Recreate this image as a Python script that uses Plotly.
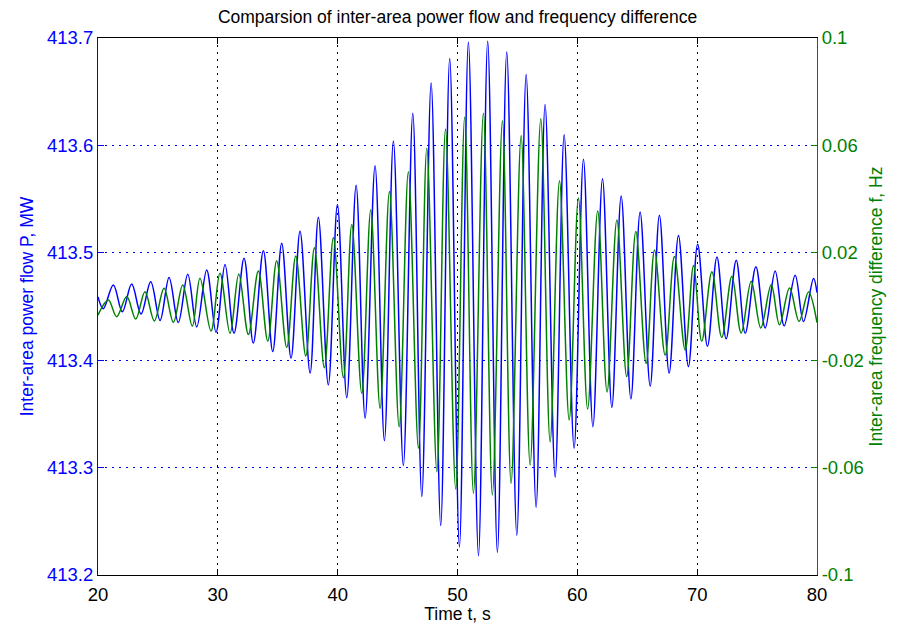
import plotly.graph_objects as go

# ---- data (extrema of each oscillation) ----
blue_t = [20.0, 20.44, 21.28, 22.03, 22.81, 23.59, 24.4, 25.18, 25.93, 26.7, 27.49, 28.24, 29.07, 29.85,
          30.6, 31.35, 32.19, 32.96, 33.8, 34.58, 35.33, 36.11, 36.86, 37.7, 38.39, 39.22, 39.98, 40.76,
          41.54, 42.29, 43.12, 43.9, 44.65, 45.48, 46.27, 47.02, 47.8, 48.6, 49.35, 50.16, 50.91, 51.75,
          52.52, 53.33, 54.11, 54.95, 55.73, 56.56, 57.31, 58.15, 58.9, 59.73, 60.51, 61.3, 62.1, 62.88,
          63.66, 64.47, 65.24, 66.08, 66.85, 67.66, 68.44, 69.27, 70.04, 70.86, 71.65, 72.42, 73.26, 74.01,
          74.9, 75.68, 76.51, 77.26, 78.18, 78.87, 79.71, 80.0]
blue_p = [413.459, 413.448, 413.470, 413.445, 413.471, 413.443, 413.473, 413.437, 413.477, 413.435,
          413.480, 413.431, 413.484, 413.426, 413.489, 413.425, 413.495, 413.416, 413.502, 413.408,
          413.509, 413.402, 413.520, 413.388, 413.533, 413.377, 413.545, 413.365, 413.563, 413.346,
          413.581, 413.325, 413.604, 413.302, 413.630, 413.273, 413.658, 413.246, 413.681, 413.226,
          413.696, 413.218, 413.697, 413.221, 413.687, 413.237, 413.666, 413.263, 413.638, 413.291,
          413.610, 413.318, 413.587, 413.338, 413.569, 413.356, 413.553, 413.364, 413.538, 413.376,
          413.535, 413.388, 413.516, 413.394, 413.508, 413.413, 413.496, 413.420, 413.493, 413.425,
          413.487, 413.430, 413.483, 413.432, 413.479, 413.436, 413.476, 413.463]

green_t = [20.0, 20.86, 21.56, 22.4, 23.15, 23.92, 24.7, 25.51, 26.29, 27.07, 27.87, 28.51, 29.43, 30.18,
           31.02, 31.75, 32.55, 33.38, 34.17, 34.91, 35.75, 36.5, 37.34, 38.06, 38.89, 39.64, 40.48, 41.18,
           42.01, 42.76, 43.54, 44.32, 45.13, 45.9, 46.74, 47.44, 48.28, 49.0, 49.85, 50.6, 51.33, 52.16,
           52.91, 53.75, 54.47, 55.31, 56.06, 56.95, 57.73, 58.51, 59.32, 60.09, 60.86, 61.7, 62.48, 63.3,
           64.12, 64.88, 65.74, 66.44, 67.33, 68.1, 69.0, 69.7, 70.38, 71.23, 72.05, 72.9, 73.67, 74.51,
           75.31, 76.18, 76.87, 77.71, 78.51, 79.29, 80.0]
green_f = [-0.0032, 0.0024, -0.0038, 0.0037, -0.0047, 0.0055, -0.0054, 0.0068, -0.0059, 0.0080,
           -0.0073, 0.0105, -0.0091, 0.0124, -0.0100, 0.0121, -0.0104, 0.0132, -0.0129, 0.0170,
           -0.0153, 0.0188, -0.0184, 0.0219, -0.0228, 0.0256, -0.0265, 0.0305, -0.0323, 0.0359,
           -0.0379, 0.0428, -0.0448, 0.0502, -0.0528, 0.0589, -0.0615, 0.0661, -0.0680, 0.0706,
           -0.0696, 0.0720, -0.0702, 0.0692, -0.0659, 0.0637, -0.0590, 0.0699, -0.0504, 0.0468,
           -0.0423, 0.0404, -0.0382, 0.0356, -0.0318, 0.0322, -0.0261, 0.0279, -0.0212, 0.0210,
           -0.0181, 0.0186, -0.0162, 0.0153, -0.0129, 0.0129, -0.0115, 0.0113, -0.0099, 0.0094,
           -0.0080, 0.0081, -0.0068, 0.0069, -0.0055, 0.0054, -0.0060]

x_ticks = [20, 30, 40, 50, 60, 70, 80]
left_ticks = [413.2, 413.3, 413.4, 413.5, 413.6, 413.7]
right_ticks = [-0.1, -0.06, -0.02, 0.02, 0.06, 0.1]
right_labels = ["-0.1", "-0.06", "-0.02", "0.02", "0.06", "0.1"]

BLUE = "#0000FF"
GREEN = "#008000"
FONT = "Liberation Sans, Arial, sans-serif"
GRID_DASH = "2px,5px"

fig = go.Figure()
fig.add_trace(go.Scatter(x=blue_t, y=blue_p, mode="lines",
                         line=dict(color=BLUE, width=1.5, shape="spline", smoothing=1.0),
                         yaxis="y", showlegend=False, hoverinfo="skip"))
fig.add_trace(go.Scatter(x=green_t, y=green_f, mode="lines",
                         line=dict(color=GREEN, width=1.5, shape="spline", smoothing=1.0),
                         yaxis="y2", showlegend=False, hoverinfo="skip"))

fig.update_layout(
    width=900, height=624,
    margin=dict(l=98, r=83, t=38, b=49),
    paper_bgcolor="white", plot_bgcolor="white",
    font=dict(family=FONT, size=18, color="black"),
    title=dict(text="Comparsion of inter-area power flow and frequency difference",
               x=0.5, xref="paper", xanchor="center",
               y=1 - 17 / 624, yref="container", yanchor="middle",
               font=dict(family=FONT, size=17.5, color="black")),
    xaxis=dict(range=[20, 80], tickvals=x_ticks, ticks="inside", ticklen=6,
               tickcolor="black", showline=True, linecolor="black", linewidth=1,
               mirror="ticks", showgrid=True, gridcolor="black", griddash=GRID_DASH,
               gridwidth=1, zeroline=False, ticklabelstandoff=3, automargin=False,
               tickfont=dict(family=FONT, size=18.5, color="black"),
               title=dict(text="Time t, s", standoff=6,
                          font=dict(family=FONT, size=17.5, color="black"))),
    yaxis=dict(range=[413.2, 413.7], tickvals=left_ticks,
               ticktext=[f"{v:.1f}" for v in left_ticks],
               ticks="inside", ticklen=6, tickcolor=BLUE,
               showline=True, linecolor=BLUE, linewidth=1, mirror=False,
               showgrid=True, gridcolor=BLUE, griddash=GRID_DASH, gridwidth=1,
               zeroline=False, automargin=False,
               tickfont=dict(family=FONT, size=18.5, color=BLUE),
               title=dict(text="Inter-area power flow P, MW", standoff=8,
                          font=dict(family=FONT, size=17.5, color=BLUE))),
    yaxis2=dict(range=[-0.1, 0.1], overlaying="y", side="right",
                tickvals=right_ticks, ticktext=right_labels,
                ticks="inside", ticklen=6, tickcolor=GREEN,
                showline=True, linecolor=GREEN, linewidth=1,
                showgrid=False, zeroline=False, automargin=False,
                tickfont=dict(family=FONT, size=18.5, color=GREEN),
                title=dict(text="Inter-area frequency difference f, Hz", standoff=6,
                           font=dict(family=FONT, size=17.5, color=GREEN))),
)

fig.write_html("out.html")
